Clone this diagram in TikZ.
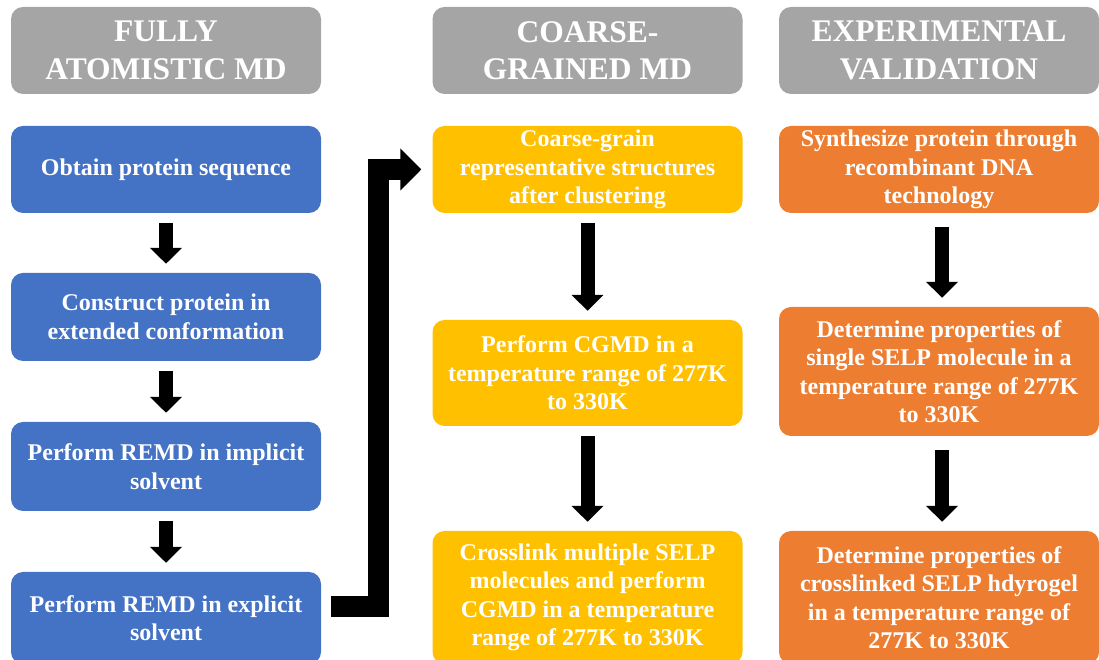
\documentclass[tikz,border=0pt]{standalone}
\usepackage{fontspec}
\setmainfont{Liberation Serif}
\usetikzlibrary{arrows.meta}
\definecolor{hdgray}{HTML}{A5A5A5}
\definecolor{mdblue}{HTML}{4472C4}
\definecolor{cgyellow}{HTML}{FFC000}
\definecolor{exorange}{HTML}{ED7D31}
\begin{document}
\begin{tikzpicture}[x=1pt, y=1pt,
		box/.style = {rounded corners=12pt, minimum width=310pt, inner sep=0pt, align=center, text=white,
			font=\fontsize{24}{28.5}\selectfont\bfseries},
		head/.style = {box, fill=hdgray, minimum height=87pt, font=\fontsize{31.5}{37.5}\selectfont\bfseries},
		down/.style = {line width=14pt, -{Triangle[width=31pt, length=16pt]}, shorten <=10pt, shorten >=9pt}]
		\useasboundingbox (0,0) rectangle (1099,660);
		% headers
		\node [head] (h1) at (166,609.5) {FULLY\\ATOMISTIC MD};
		\node [head] (h2) at (587.5,609.5) {COARSE-\\GRAINED MD};
		\node [head, minimum width=320pt] (h3) at (939,609.5) {EXPERIMENTAL\\VALIDATION};
		% fully atomistic
		\node [box, fill=mdblue, minimum height=87pt] (b1) at (166,490.5) {Obtain protein sequence};
		\node [box, fill=mdblue, minimum height=88pt] (b2) at (166,343) {Construct protein in\\extended conformation};
		\node [box, fill=mdblue, minimum height=89pt] (b3) at (166,193.5) {Perform REMD in implicit\\solvent};
		\node [box, fill=mdblue, minimum height=92pt] (b4) at (166,42) {Perform REMD in explicit\\solvent};
		% coarse-grained
		\node [box, fill=cgyellow, minimum height=87pt] (c1) at (587.5,490.5) {Coarse-grain\\representative structures\\after clustering};
		\node [box, fill=cgyellow, minimum height=106pt] (c2) at (587.5,287) {Perform CGMD in a\\temperature range of 277K\\to 330K};
		\node [box, fill=cgyellow, minimum height=133pt] (c3) at (587.5,62.5) {Crosslink multiple SELP\\molecules and perform\\CGMD in a temperature\\range of 277K to 330K};
		% experimental
		\node [box, fill=exorange, minimum width=320pt, minimum height=87pt] (d1) at (939,490.5) {Synthesize protein through\\recombinant DNA\\technology};
		\node [box, fill=exorange, minimum width=320pt, minimum height=129pt] (d2) at (939,288.5) {Determine properties of\\single SELP molecule in a\\temperature range of 277K\\to 330K};
		\node [box, fill=exorange, minimum width=320pt, minimum height=133pt] (d3) at (939,62.5) {Determine properties of\\crosslinked SELP hdyrogel\\in a temperature range of\\277K to 330K};
		\draw [down] (b1) -- (b2);
		\draw [down] (b2) -- (b3);
		\draw [down] (b3) -- (b4);
		\draw [down] (587.5,0 |- c1.south) -- (587.5,0 |- c2.north);
		\draw [down] (587.5,0 |- c2.south) -- (587.5,0 |- c3.north);
		\draw [down, shorten <=14pt] (942,0 |- d1.south) -- (942,0 |- d2.north);
		\draw [down, shorten <=14pt] (942,0 |- d2.south) -- (942,0 |- d3.north);
		% elbow to coarse-grained
		\coordinate (elbow) at (331,53.5);
		\draw [line width=21pt, line join=miter, -{Triangle[width=41pt, length=21pt]}, shorten >=11pt]
			(elbow) -- (378.5,53.5) |- (c1.west);
	\end{tikzpicture}
\end{document}
